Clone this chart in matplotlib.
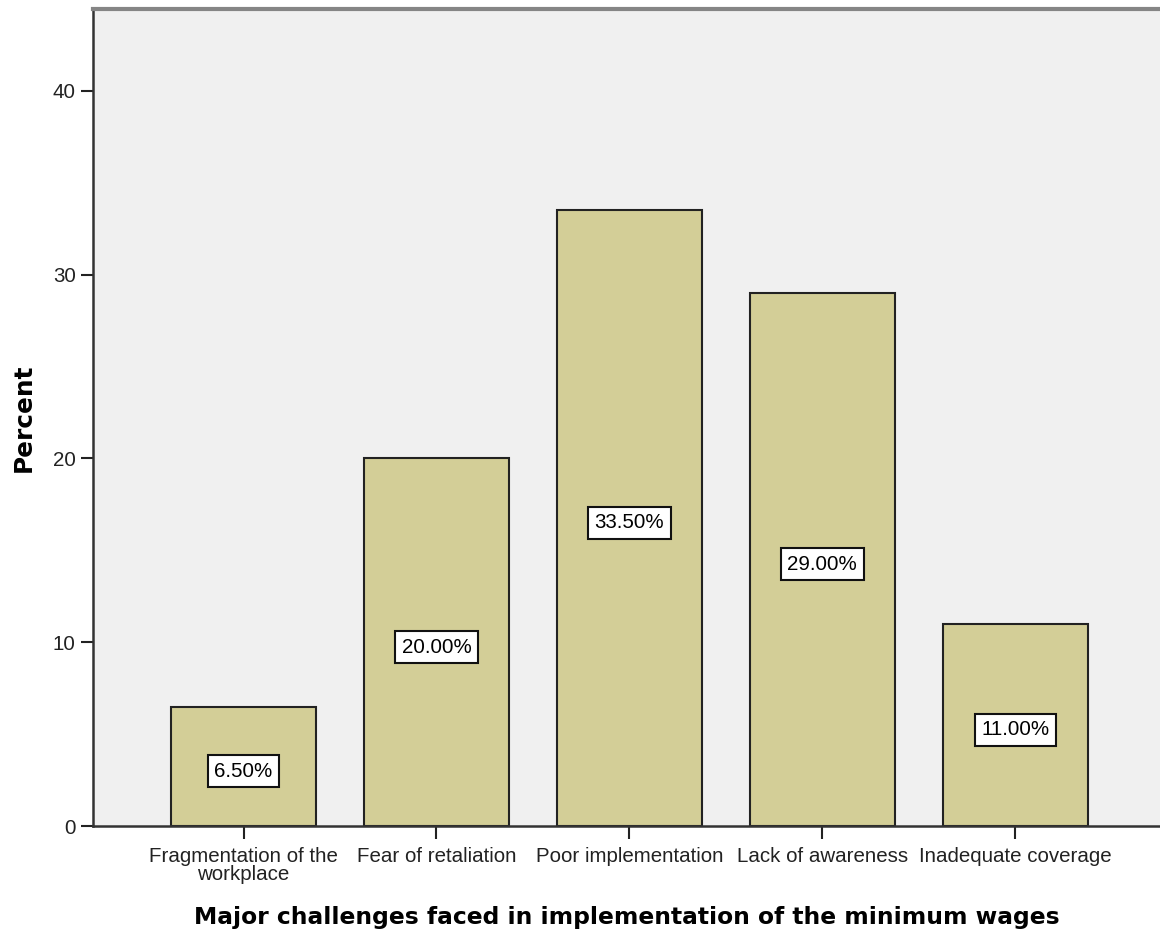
import matplotlib.pyplot as plt

categories = ["Fragmentation of the\nworkplace", "Fear of retaliation",
              "Poor implementation", "Lack of awareness", "Inadequate coverage"]
percent = [6.5, 20.0, 33.5, 29.0, 11.0]

BAR_COLOR = "#d3ce97"
BG_COLOR = "#f0f0f0"

fig = plt.figure(figsize=(11.6, 9.36), dpi=100)
ax = fig.add_axes([0.0802, 0.1175, 0.9198, 0.8729])
ax.set_facecolor(BG_COLOR)

x = range(len(categories))
ax.bar(x, percent, width=0.75, color=BAR_COLOR, edgecolor="#222222",
       linewidth=1.5, zorder=2)

# value boxes halfway up each bar
for i, v in enumerate(percent):
    ax.annotate(f"{v:.2f}%", (i, v / 2), xytext=(0, -3.5),
                textcoords="offset points", ha="center", va="center",
                fontsize=14.8, family="Liberation Sans", zorder=3,
                bbox=dict(boxstyle="square,pad=0.32", facecolor="white",
                          edgecolor="#111111", linewidth=1.5))

ax.set_xlim(-0.78, 4.75)
ax.set_ylim(0, 44.45)
ax.set_xticks(list(x))
ax.set_xticklabels(categories, fontsize=14.8, family="Liberation Sans",
                   linespacing=0.95)
ax.set_yticks([0, 10, 20, 30, 40])
ax.tick_params(axis="both", direction="out", length=9, width=1.5,
               colors="#222222", labelsize=14.8)
ax.tick_params(axis="x", pad=6)
for lab in ax.get_yticklabels():
    lab.set_family("Liberation Sans")

ax.spines["right"].set_visible(False)
ax.spines["top"].set_color("#858585")
ax.spines["top"].set_linewidth(3)
ax.spines["left"].set_color("#333333")
ax.spines["left"].set_linewidth(1.8)
ax.spines["bottom"].set_color("#333333")
ax.spines["bottom"].set_linewidth(1.8)

ax.set_ylabel("Percent", fontsize=17.8, fontweight="bold")
ax.set_xlabel("Major challenges faced in implementation of the minimum wages",
              fontsize=16.8, fontweight="bold", labelpad=16)
ax.yaxis.set_label_coords(-0.054, 0.5)

fig.savefig("out.png", dpi=100, facecolor="white")
